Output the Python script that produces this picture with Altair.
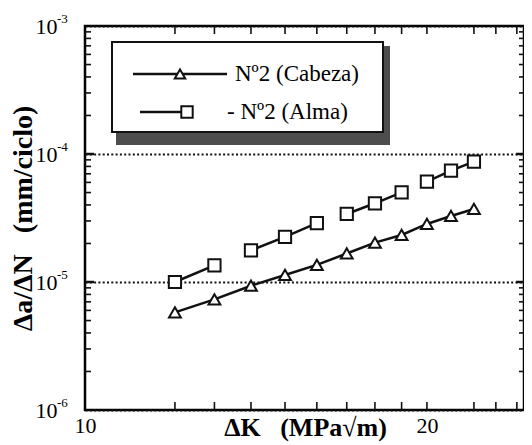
import altair as alt
import pandas as pd

# ---------------- data ----------------
dk = [12, 13, 14, 15, 16, 17, 18, 19, 20, 21, 22]
cabeza = [5.79e-6, 7.32e-6, 9.35e-6, 1.135e-5, 1.36e-5, 1.67e-5,
          2.03e-5, 2.33e-5, 2.84e-5, 3.28e-5, 3.72e-5]
alma = [1.00e-5, 1.35e-5, 1.77e-5, 2.25e-5, 2.88e-5, 3.40e-5,
        4.12e-5, 5.02e-5, 6.08e-5, 7.41e-5, 8.71e-5]
alma_segment = ["a1", "a1", "a2", "a2", "a2", "a3", "a3", "a3", "a4", "a4", "a4"]

legend_labels = ["Nº2 (Cabeza)", "- Nº2 (Alma)"]
x_title = "ΔK\u00a0\u00a0\u00a0(MPa√m)"
y_title = "Δa/ΔN\u00a0\u00a0\u00a0(mm/ciclo)"
x_label_values = [10, 20]
y_label_values = [1e-6, 1e-5, 1e-4, 1e-3]
y_exponents = ["-6", "-5", "-4", "-3"]
x_tick_values = [12, 13, 14, 15, 16, 17, 18, 19, 20, 22, 23, 24]
y_major_ticks = [1e-5, 1e-4]
y_minor_ticks = [m * 10.0 ** e for e in (-6, -5, -4) for m in range(2, 10)]

# ---------------- layout ----------------
W, H = 439, 384
FONT = "'Liberation Serif', 'Times New Roman', Times, 'DejaVu Serif', serif"
INK = "#111111"

xscale = alt.Scale(type="log", domain=[10, 24.35], nice=False)
yscale = alt.Scale(type="log", domain=[1e-6, 1e-3], nice=False)

rows = []
for k, v in zip(dk, cabeza):
    rows.append({"dk": k, "v": v, "seg": "c", "serie": "cabeza"})
for k, v, s in zip(dk, alma, alma_segment):
    rows.append({"dk": k, "v": v, "seg": s, "serie": "alma"})
df = pd.DataFrame(rows)

xaxis = alt.Axis(values=x_label_values, format="d", labelFont=FONT, labelFontSize=22,
                 labelColor="black", labelPadding=5, labelFlush=False,
                 ticks=False, domain=False, grid=False,
                 title=x_title, titleFont=FONT, titleFontSize=26,
                 titleFontWeight="bold", titleColor="black",
                 titleX=220, titleY=25, titleBaseline="alphabetic", titleAlign="center")
yaxis = alt.Axis(values=y_label_values, labelExpr="'10'", labelFont=FONT, labelFontSize=22,
                 labelColor="black", labelPadding=28, labelFlush=False,
                 ticks=False, domain=False, grid=True, gridDash=[2, 2.3],
                 gridColor=INK, gridWidth=2.2,
                 title=y_title, titleFont=FONT, titleFontSize=28,
                 titleFontWeight="bold", titleColor="black",
                 titleX=-62, titleY=H / 2, titleAngle=-90, titleBaseline="middle",
                 titleAlign="center")


def X(field):
    return alt.X(field, scale=xscale, axis=xaxis)


def Y(field):
    return alt.Y(field, scale=yscale, axis=yaxis)


lines = alt.Chart(df).mark_line(color=INK, strokeWidth=2.5).encode(
    x=X("dk:Q"), y=Y("v:Q"), detail="seg:N",
)

pts_c = alt.Chart(df[df.serie == "cabeza"]).mark_point(
    shape="triangle-up", filled=True, fill="white", stroke=INK, strokeWidth=2,
    size=140, opacity=1).encode(x=X("dk:Q"), y=Y("v:Q"))
pts_a = alt.Chart(df[df.serie == "alma"]).mark_point(
    shape="square", filled=True, fill="white", stroke=INK, strokeWidth=2,
    size=150, opacity=1).encode(x=X("dk:Q"), y=Y("v:Q"))

# exponents of the y labels
exp_df = pd.DataFrame({"v": y_label_values, "e": y_exponents})
exps = alt.Chart(exp_df).mark_text(font=FONT, fontSize=13, align="left",
                                   baseline="middle", dy=-7, color="black").encode(
    x=alt.value(-28), y=Y("v:Q"), text="e:N",
)

# inward ticks
ymin_df = pd.DataFrame({"v": y_minor_ticks})
ymaj_df = pd.DataFrame({"v": y_major_ticks})
xt_df = pd.DataFrame({"dk": x_tick_values})
tick_style = dict(color=INK, strokeWidth=1.6)
yl_minor = alt.Chart(ymin_df).mark_rule(**tick_style).encode(
    y=Y("v:Q"), x=alt.value(0), x2=alt.value(6))
yl_major = alt.Chart(ymaj_df).mark_rule(color=INK, strokeWidth=2.5).encode(
    y=Y("v:Q"), x=alt.value(0), x2=alt.value(9))
yr_minor = alt.Chart(ymin_df).mark_rule(**tick_style).encode(
    y=Y("v:Q"), x=alt.value(W), x2=alt.value(W - 5))
yr_major = alt.Chart(ymaj_df).mark_rule(color=INK, strokeWidth=2.5).encode(
    y=Y("v:Q"), x=alt.value(W), x2=alt.value(W - 8))
xb = alt.Chart(xt_df).mark_rule(**tick_style).encode(
    x=X("dk:Q"), y=alt.value(H), y2=alt.value(H - 8))
xtp = alt.Chart(xt_df).mark_rule(**tick_style).encode(
    x=X("dk:Q"), y=alt.value(0), y2=alt.value(8))

# legend box with shadow
one = alt.Data(values=[{}])
shadow = alt.Chart(one).mark_rect(color="#4d4d4d").encode(
    x=alt.value(31), x2=alt.value(305), y=alt.value(20), y2=alt.value(119))
box = alt.Chart(one).mark_rect(fill="white", stroke=INK, strokeWidth=2).encode(
    x=alt.value(27), x2=alt.value(298), y=alt.value(16), y2=alt.value(106))
leg_line1 = alt.Chart(one).mark_rule(color=INK, strokeWidth=2.5).encode(
    x=alt.value(48), x2=alt.value(142), y=alt.value(48))
leg_line2 = alt.Chart(one).mark_rule(color=INK, strokeWidth=2.5).encode(
    x=alt.value(55), x2=alt.value(100), y=alt.value(86))
leg_tri = alt.Chart(one).mark_point(shape="triangle-up", filled=True, fill="white",
                                     stroke=INK, strokeWidth=2, size=110, opacity=1).encode(
    x=alt.value(95), y=alt.value(48))
leg_sq = alt.Chart(one).mark_point(shape="square", filled=True, fill="white",
                                    stroke=INK, strokeWidth=2, size=130, opacity=1).encode(
    x=alt.value(102), y=alt.value(86))
leg_t1 = alt.Chart(one).mark_text(font=FONT, fontSize=23, align="left", baseline="middle",
                                  color="black", text=legend_labels[0]).encode(
    x=alt.value(150), y=alt.value(48))
leg_t2 = alt.Chart(one).mark_text(font=FONT, fontSize=23, align="left", baseline="middle",
                                  color="black", text=legend_labels[1]).encode(
    x=alt.value(142), y=alt.value(86))

chart = alt.layer(
    lines, yl_minor, yl_major, yr_minor, yr_major, xb, xtp, exps,
    pts_c, pts_a,
    shadow, box, leg_line1, leg_line2, leg_tri, leg_sq, leg_t1, leg_t2,
).properties(
    width=W, height=H,
    padding={"left": 77, "top": 18, "right": 0, "bottom": 35},
    autosize=alt.AutoSizeParams(type="none"),
    background="white",
).configure_view(stroke="black", strokeWidth=2.5)

chart.save("out.html", embed_options={"renderer": "svg", "actions": False})
